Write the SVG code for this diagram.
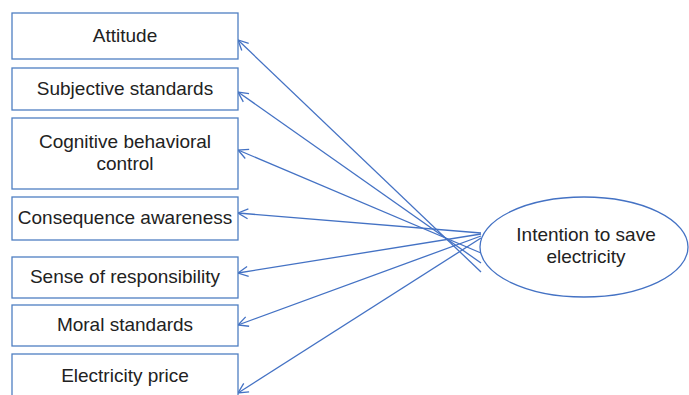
<svg xmlns="http://www.w3.org/2000/svg" width="689" height="395" viewBox="0 0 689 395">
<style>
.box{fill:#fff;stroke:#4F7FC2;stroke-width:1.3}
.t{font-family:"Liberation Sans",Arial,sans-serif;font-size:19px;fill:#222;text-anchor:middle}
.c{fill:none;stroke:#4472C4;stroke-width:1.3}
</style>
<defs>
<marker id="ah" viewBox="0 0 12 12" refX="11" refY="6" markerWidth="12" markerHeight="12" markerUnits="userSpaceOnUse" orient="auto">
<path d="M1,1 L11,6 L1,11" fill="none" stroke="#4472C4" stroke-width="1.3"/>
</marker>
</defs>
<rect width="689" height="395" fill="#fff"/>
<g id="connectors">
<line class="c" x1="481" y1="272" x2="238" y2="40" marker-end="url(#ah)"/>
<line class="c" x1="481" y1="263" x2="238" y2="92" marker-end="url(#ah)"/>
<line class="c" x1="481" y1="253" x2="238" y2="150" marker-end="url(#ah)"/>
<line class="c" x1="481" y1="233" x2="238" y2="213" marker-end="url(#ah)"/>
<line class="c" x1="481" y1="234" x2="238" y2="273" marker-end="url(#ah)"/>
<line class="c" x1="481" y1="236" x2="238" y2="325" marker-end="url(#ah)"/>
<line class="c" x1="481" y1="238" x2="238" y2="393" marker-end="url(#ah)"/>
</g>
<g id="attitude"><rect class="box" x="12" y="13" width="226" height="46"/><text class="t" x="125" y="42">Attitude</text></g>
<g id="subjective"><rect class="box" x="12" y="68" width="226" height="42"/><text class="t" x="125" y="95">Subjective standards</text></g>
<g id="cognitive"><rect class="box" x="12" y="118" width="226" height="71"/><text class="t" x="125" y="148">Cognitive behavioral</text><text class="t" x="125" y="170">control</text></g>
<g id="consequence"><rect class="box" x="12" y="197" width="226" height="43"/><text class="t" x="125" y="224">Consequence awareness</text></g>
<g id="responsibility"><rect class="box" x="12" y="257" width="226" height="41"/><text class="t" x="125" y="283">Sense of responsibility</text></g>
<g id="moral"><rect class="box" x="12" y="305" width="226" height="41"/><text class="t" x="125" y="331">Moral standards</text></g>
<g id="price"><rect class="box" x="12" y="354" width="226" height="50"/><text class="t" x="125" y="382">Electricity price</text></g>
<g id="intention"><ellipse cx="584" cy="247" rx="104" ry="50" fill="#fff" stroke="#4472C4" stroke-width="1.3"/><text class="t" x="586" y="241">Intention to save</text><text class="t" x="586" y="263">electricity</text></g>
</svg>
